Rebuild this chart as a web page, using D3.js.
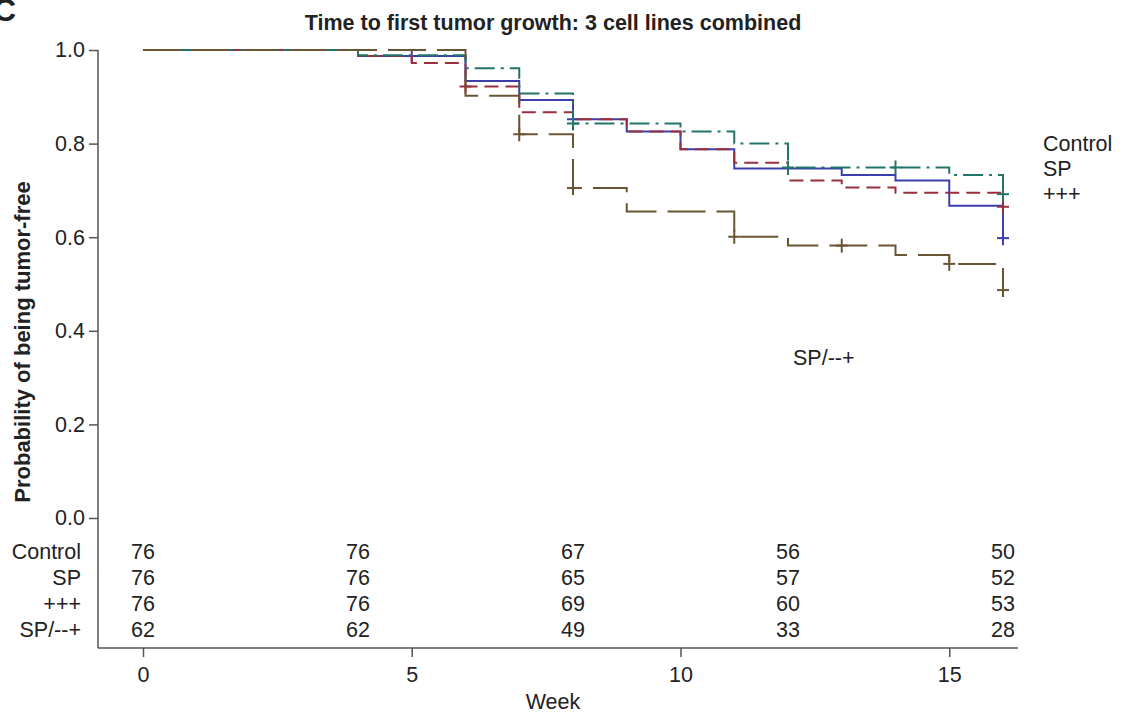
<!DOCTYPE html>
<html>
<head>
<meta charset="utf-8">
<script src="https://cdn.jsdelivr.net/npm/d3@7"></script>
<style>
  body { margin: 0; background: #fff; }
  text { font-family: "Liberation Sans", Arial, sans-serif; fill: #222; }
</style>
</head>
<body>
<div class="chart"></div>
<script>
var svgWidth = 1121;
var svgHeight = 713;

// group names, in drawing order
var groups = ["Control", "SP", "+++", "SP/--+"];

// Kaplan-Meier steps: week of each drop and survival after it
var controlWeeks = [0, 4, 6, 7, 8, 9, 10, 11, 13, 14, 15, 16];
var controlSurv  = [1.0, 0.987, 0.934, 0.893, 0.852, 0.826, 0.788, 0.747, 0.733, 0.721, 0.667, 0.598];
var spWeeks = [0, 4, 5, 6, 7, 8, 9, 10, 11, 12, 13, 14, 16];
var spSurv  = [1.0, 0.987, 0.972, 0.922, 0.867, 0.852, 0.826, 0.788, 0.759, 0.721, 0.706, 0.695, 0.665];
var plusWeeks = [0, 4, 6, 7, 8, 10, 11, 12, 15, 16];
var plusSurv  = [1.0, 0.989, 0.961, 0.907, 0.843, 0.826, 0.800, 0.749, 0.733, 0.692];
var sp2Weeks = [0, 6, 7, 8, 9, 11, 12, 14, 15, 16];
var sp2Surv  = [1.0, 0.902, 0.820, 0.705, 0.655, 0.601, 0.582, 0.562, 0.543, 0.487];

// censoring marks (weeks)
var controlCensor = [5, 8, 16];
var spCensor = [6, 16];
var plusCensor = [8, 12, 14, 16];
var sp2Censor = [7, 8, 11, 13, 15, 16];

// number at risk table
var riskWeeks = [0, 4, 8, 12, 16];
var controlRisk = [76, 76, 67, 56, 50];
var spRisk = [76, 76, 65, 57, 52];
var plusRisk = [76, 76, 69, 60, 53];
var sp2Risk = [62, 62, 49, 33, 28];

var xTicks = [0, 5, 10, 15];
var yTicks = [0, 0.2, 0.4, 0.6, 0.8, 1.0];

var colors = ["#3b3fae", "#9c2f3e", "#23756a", "#6a5533"];
var dashes = ["none", "14,7", "20,6,3,6", "38,11"];

var fontSize = "21.5px";

var series = [
  {name: groups[0], weeks: controlWeeks, surv: controlSurv, censor: controlCensor, risk: controlRisk},
  {name: groups[1], weeks: spWeeks, surv: spSurv, censor: spCensor, risk: spRisk},
  {name: groups[2], weeks: plusWeeks, surv: plusSurv, censor: plusCensor, risk: plusRisk},
  {name: groups[3], weeks: sp2Weeks, surv: sp2Surv, censor: sp2Censor, risk: sp2Risk}
];

var svg = d3.select(".chart")
  .append("svg")
  .attr("width", svgWidth)
  .attr("height", svgHeight);

var x = d3.scaleLinear().domain([0, 16]).range([143, 1003]);
var y = d3.scaleLinear().domain([0, 1]).range([518, 50]);

// panel letter, cut at the top edge like the source figure
svg.append("text")
  .attr("x", -7).attr("y", 21)
  .style("font-size", "32px").style("font-weight", "bold")
  .text("C");

svg.append("text")
  .attr("x", 553).attr("y", 30)
  .attr("text-anchor", "middle")
  .style("font-size", fontSize).style("font-weight", "bold")
  .text("Time to first tumor growth: 3 cell lines combined");

// axes frame
svg.append("line")
  .attr("x1", 98).attr("x2", 98).attr("y1", 50).attr("y2", 648)
  .attr("stroke", "#555").attr("stroke-width", 1.5);
svg.append("line")
  .attr("x1", 98).attr("x2", 1018).attr("y1", 648).attr("y2", 648)
  .attr("stroke", "#555").attr("stroke-width", 1.5);

var leftAxis = d3.axisLeft(y).tickValues(yTicks).tickFormat(d3.format(".1f"))
  .tickSize(9).tickPadding(4);
var yAxis = svg.append("g").attr("transform", "translate(98,0)").call(leftAxis);
yAxis.select(".domain").remove();
yAxis.selectAll("line").attr("stroke", "#555").attr("stroke-width", 1.5);
yAxis.selectAll("text").style("font-size", fontSize).style("font-family", "Liberation Sans, Arial, sans-serif").attr("fill", "#222");

var bottomAxis = d3.axisBottom(x).tickValues(xTicks).tickSize(9).tickPadding(10);
var xAxis = svg.append("g").attr("transform", "translate(0,648)").call(bottomAxis);
xAxis.select(".domain").remove();
xAxis.selectAll("line").attr("stroke", "#555").attr("stroke-width", 1.5);
xAxis.selectAll("text").style("font-size", fontSize).style("font-family", "Liberation Sans, Arial, sans-serif").attr("fill", "#222");

svg.append("text")
  .attr("transform", "rotate(-90)")
  .attr("x", -342).attr("y", 30)
  .attr("text-anchor", "middle")
  .style("font-size", "22px").style("font-weight", "bold")
  .text("Probability of being tumor-free");

svg.append("text")
  .attr("x", 553).attr("y", 709)
  .attr("text-anchor", "middle")
  .style("font-size", fontSize)
  .text("Week");

// survival curves
var line = d3.line()
  .x(d => x(d[0]))
  .y(d => y(d[1]))
  .curve(d3.curveStepAfter);

function survAt(s, t) {
  var v = s.surv[0];
  s.weeks.forEach(function(w, i) { if (w <= t) v = s.surv[i]; });
  return v;
}

series.forEach(function(s, i) {
  var pts = s.weeks.map((w, j) => [w, s.surv[j]]);
  svg.append("path")
    .datum(pts)
    .attr("d", line)
    .attr("fill", "none")
    .attr("stroke", colors[i])
    .attr("stroke-width", 2)
    .attr("stroke-dasharray", dashes[i]);

  var marks = svg.append("g").attr("stroke", colors[i]).attr("stroke-width", 2);
  s.censor.forEach(function(t) {
    var cx = x(t), cy = y(survAt(s, t));
    marks.append("line").attr("x1", cx - 6).attr("x2", cx + 6).attr("y1", cy).attr("y2", cy);
    marks.append("line").attr("x1", cx).attr("x2", cx).attr("y1", cy - 7).attr("y2", cy + 7);
  });
});

// curve labels
var labelY = [143, 168, 193];
groups.slice(0, 3).forEach(function(g, i) {
  svg.append("text")
    .attr("x", 1043).attr("y", labelY[i] + 8)
    .style("font-size", fontSize)
    .text(g);
});
svg.append("text")
  .attr("x", 793).attr("y", 365)
  .style("font-size", fontSize)
  .text(groups[3]);

// number at risk
var rowY = [551, 577, 603, 629];
series.forEach(function(s, i) {
  svg.append("text")
    .attr("x", 81).attr("y", rowY[i] + 8)
    .attr("text-anchor", "end")
    .style("font-size", fontSize)
    .text(s.name);
  svg.append("g").selectAll("text")
    .data(s.risk)
    .enter()
    .append("text")
    .attr("x", (d, j) => x(riskWeeks[j]))
    .attr("y", rowY[i] + 8)
    .attr("text-anchor", "middle")
    .style("font-size", fontSize)
    .text(d => d);
});
</script>
</body>
</html>
